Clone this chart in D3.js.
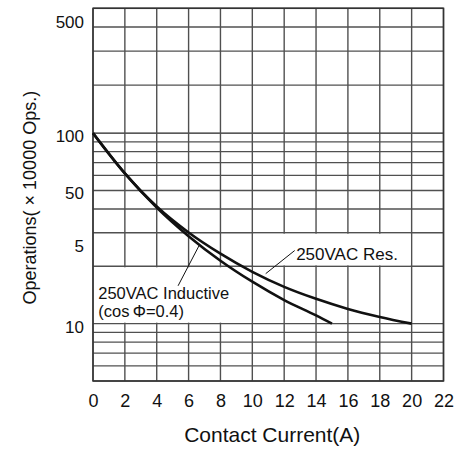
<!DOCTYPE html>
<html>
<head>
<meta charset="utf-8">
<script src="https://cdn.jsdelivr.net/npm/d3@7"></script>
<style>
    html, body { margin: 0; padding: 0; background: #fff; }
    svg { display: block; }
</style>
</head>
<body>
<div id="chart"></div>
<script>
/* --- Data --- */
// Contact current (A)
const resCurrent = [0, 2, 4, 6, 8, 10, 12, 14, 16, 18, 20];
// 250VAC resistive, operations (x10000)
const resOps = [100, 61.5, 41.2, 30.1, 23.3, 18.7, 15.6, 13.5, 11.95, 10.85, 10];

const indCurrent = [0, 2, 4, 6, 8, 10, 12, 14, 15];
// 250VAC inductive (cos phi = 0.4)
const indOps = [100, 61.5, 40.7, 28.8, 21.4, 16.6, 13.3, 11.05, 10];

// x ticks
const xTicks = [0, 2, 4, 6, 8, 10, 12, 14, 16, 18, 20, 22];
// horizontal grid values
const yGrid = [5, 6, 7, 8, 9, 10, 20, 30, 40, 50, 60, 70, 80, 90, 100, 200, 300, 400, 500];
// y labels as printed on the sheet, and the value each one sits beside
const yLabels = ["500", "100", "50", "5", "10"];
const yLabelAt = [440, 100, 50, 26.6, 10];

/* --- Configuration --- */
const CONFIG = {
    width: 459,
    height: 461,
    margin: { top: 8, right: 15, bottom: 80, left: 93 },
    grid: '#505050',
    ink: '#111'
};

const svg = d3.select("#chart")
    .append("svg")
    .attr("width", CONFIG.width)
    .attr("height", CONFIG.height);

const plotLeft = CONFIG.margin.left;
const plotRight = CONFIG.width - CONFIG.margin.right - 0.5;
const plotTop = CONFIG.margin.top + 0.3;
const plotBottom = CONFIG.height - CONFIG.margin.bottom;

// Scales
const x = d3.scaleLinear().domain([0, 22]).range([plotLeft, plotRight]);
// the sheet's log axis is drawn unevenly above 100, so it is piecewise
const plotH = plotBottom - plotTop;
const y = d3.scaleLog()
    .domain([5, 100, 200, 500])
    .range([plotBottom, plotTop + plotH * 0.335, plotTop + plotH * 0.206, plotTop]);

/* --- Grid --- */
const gridG = svg.append("g");

gridG.selectAll("line.h")
    .data(yGrid)
    .enter()
    .append("line")
    .attr("class", "h")
    .attr("x1", plotLeft).attr("x2", plotRight)
    .attr("y1", d => y(d)).attr("y2", d => y(d))
    .attr("stroke", d => d === 100 ? '#222' : CONFIG.grid)
    .attr("stroke-width", 1.4);

gridG.selectAll("line.v")
    .data(xTicks)
    .enter()
    .append("line")
    .attr("class", "v")
    .attr("x1", d => x(d)).attr("x2", d => x(d))
    .attr("y1", plotTop).attr("y2", plotBottom)
    .attr("stroke", CONFIG.grid)
    .attr("stroke-width", 1.4);

// blank label boxes (grid is cut out behind the notes)
const boxes = [
    { x0: 10, x1: 20, v0: 20, v1: 30 },
    { x0: 0, x1: 10, v0: 10, v1: 20 }
];
svg.selectAll("rect.box")
    .data(boxes)
    .enter()
    .append("rect")
    .attr("class", "box")
    .attr("x", d => x(d.x0) + 1)
    .attr("width", d => x(d.x1) - x(d.x0) - 2)
    .attr("y", d => y(d.v1) + 1)
    .attr("height", d => y(d.v0) - y(d.v1) - 2)
    .attr("fill", "#fff");

// frame
svg.append("rect")
    .attr("x", plotLeft).attr("y", plotTop)
    .attr("width", plotRight - plotLeft).attr("height", plotBottom - plotTop)
    .attr("fill", "none")
    .attr("stroke", '#333')
    .attr("stroke-width", 1.5);

/* --- Axes --- */
const xAxis = svg.append("g")
    .attr("transform", `translate(0, ${plotBottom + 5})`)
    .call(d3.axisBottom(x).tickValues(xTicks).tickSize(0).tickPadding(8));
xAxis.select(".domain").remove();
xAxis.selectAll("text")
    .attr("fill", CONFIG.ink)
    .style("font-family", "'Liberation Sans Narrow', 'Arial Narrow', sans-serif")
    .style("font-size", "18px");

const yAxis = svg.append("g")
    .attr("transform", `translate(${plotLeft - 9}, 3)`)
    .call(d3.axisLeft(y).tickValues(yLabelAt).tickFormat((d, i) => yLabels[i]).tickSize(0).tickPadding(0));
yAxis.select(".domain").remove();
yAxis.selectAll("text")
    .attr("fill", CONFIG.ink)
    .style("font-family", "'Liberation Sans', Arial, sans-serif")
    .style("font-size", "17px");

svg.append("text")
    .attr("x", (plotLeft + plotRight) / 2 + 4)
    .attr("y", CONFIG.height - 19)
    .attr("text-anchor", "middle")
    .attr("fill", CONFIG.ink)
    .style("font-family", "'Liberation Sans', Arial, sans-serif")
    .style("font-size", "21px")
    .text("Contact Current(A)");

svg.append("text")
    .attr("transform", `translate(36, ${(plotTop + plotBottom) / 2 + 3}) rotate(-90)`)
    .attr("text-anchor", "middle")
    .attr("fill", CONFIG.ink)
    .style("font-family", "'Liberation Sans', Arial, sans-serif")
    .style("font-size", "18px")
    .text("Operations( × 10000 Ops.)");

/* --- Curves --- */
const line = d3.line()
    .x(d => x(d[0]))
    .y(d => y(d[1]))
    .curve(d3.curveMonotoneX);

const series = [
    d3.zip(resCurrent, resOps),
    d3.zip(indCurrent, indOps)
];

svg.selectAll("path.curve")
    .data(series)
    .enter()
    .append("path")
    .attr("class", "curve")
    .attr("d", line)
    .attr("fill", "none")
    .attr("stroke", CONFIG.ink)
    .attr("stroke-width", 2.6);

/* --- Notes with leader lines --- */
const leaders = [
    { from: [10.84, 18.3], to: [12.66, 24.2] },
    { from: [5.34, 15.8], to: [6.66, 25.7] }
];
svg.selectAll("line.leader")
    .data(leaders)
    .enter()
    .append("line")
    .attr("class", "leader")
    .attr("x1", d => x(d.from[0])).attr("y1", d => y(d.from[1]))
    .attr("x2", d => x(d.to[0])).attr("y2", d => y(d.to[1]))
    .attr("stroke", CONFIG.ink)
    .attr("stroke-width", 1);

// resistive note
svg.append("text")
    .attr("x", x(12.75))
    .attr("y", y(21.6))
    .attr("fill", CONFIG.ink)
    .style("font-family", "'Liberation Sans Narrow', 'Arial Narrow', sans-serif")
    .style("font-size", "17px")
    .text("250VAC Res.");

// inductive note, two lines in one text block
const indNote = svg.append("text")
    .attr("fill", CONFIG.ink)
    .style("font-family", "'Liberation Sans', Arial, sans-serif")
    .style("font-size", "16.5px");
indNote.append("tspan")
    .attr("x", x(0.33))
    .attr("y", y(13.55))
    .text("250VAC Inductive");
indNote.append("tspan")
    .attr("x", x(0.33))
    .attr("y", y(10.9))
    .text("(cos\u2009\u03A6=0.4)");
</script>
</body>
</html>
